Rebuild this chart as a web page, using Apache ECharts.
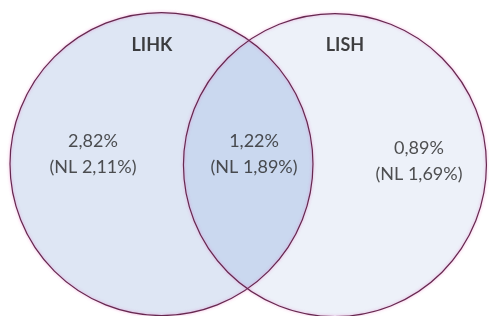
<!DOCTYPE html>
<html>
<head>
<meta charset="utf-8">
<script src="https://cdn.jsdelivr.net/npm/echarts@6/dist/echarts.min.js"></script>
<style>
html,body{margin:0;padding:0;background:#ffffff;}
#chart{width:489px;height:316px;}
</style>
</head>
<body>
<div id="chart"></div>
<script>
// ---- data ----
const setNames = ['LIHK', 'LISH'];
const setCenterX = [0, 1.145];
const setCenterY = [0, -0.007];
const setRadius = [1, 1];
const setTitleX = [-0.063, 1.211];
const setTitleY = [0.785, 0.785];

const regionNames = ['LIHK', 'LIHK ∩ LISH', 'LISH'];
const regionValues = ['2,82%', '1,22%', '0,89%'];
const regionNL = ['2,11%', '1,89%', '1,69%'];
const regionLabelX = [-0.452, 0.611, 1.70];
const regionLabelY = [0.066, 0.066, 0.02];

// ---- chart ----
const fills = ['#dee6f4', '#edf1f9'];
const lensFill = '#cad8ef';

const circleData = setNames.map((n, i) => [setCenterX[i], setCenterY[i], setRadius[i]]);

function circleShape(api, i) {
  const c = api.coord([setCenterX[i], setCenterY[i]]);
  const r = api.size([setRadius[i], 0])[0];
  return { cx: c[0], cy: c[1], r: r };
}

const chart = echarts.init(document.getElementById('chart'), null, { renderer: 'canvas' });
chart.setOption({
  backgroundColor: '#ffffff',
  animation: false,
  grid: { left: 0, right: 0, top: 0, bottom: 0 },
  xAxis: { type: 'value', min: -1.066, max: 2.162, show: false },
  yAxis: { type: 'value', min: -1.003, max: 1.0825, show: false },
  series: [
    {
      type: 'custom',
      name: 'fills',
      silent: true,
      data: circleData,
      renderItem: function (params, api) {
        const i = params.dataIndex;
        return { type: 'circle', shape: circleShape(api, i), style: { fill: fills[i], stroke: null } };
      },
      z: 1
    },
    {
      type: 'custom',
      name: 'overlap',
      silent: true,
      data: [[0]],
      renderItem: function (params, api) {
        const a = circleShape(api, 0);
        const b = circleShape(api, 1);
        const dx = b.cx - a.cx, dy = b.cy - a.cy;
        const d = Math.sqrt(dx * dx + dy * dy);
        const ux = dx / d, uy = dy / d;
        const along = (d * d + a.r * a.r - b.r * b.r) / (2 * d);
        const h = Math.sqrt(a.r * a.r - along * along);
        const mx = a.cx + ux * along, my = a.cy + uy * along;
        const p1 = [mx + uy * h, my - ux * h];
        const p2 = [mx - uy * h, my + ux * h];
        const top = p1[1] < p2[1] ? p1 : p2;
        const bot = p1[1] < p2[1] ? p2 : p1;
        const path = 'M' + top[0] + ' ' + top[1] +
          ' A' + a.r + ' ' + a.r + ' 0 0 1 ' + bot[0] + ' ' + bot[1] +
          ' A' + b.r + ' ' + b.r + ' 0 0 1 ' + top[0] + ' ' + top[1] + ' Z';
        const x0 = b.cx - b.r, x1 = a.cx + a.r;
        return {
          type: 'path',
          shape: { pathData: path, x: x0, y: top[1], width: x1 - x0, height: bot[1] - top[1], layout: 'cover' },
          style: { fill: lensFill, stroke: null }
        };
      },
      z: 2
    },
    {
      type: 'custom',
      name: 'outlines',
      silent: true,
      data: circleData,
      renderItem: function (params, api) {
        const i = params.dataIndex;
        return {
          type: 'circle',
          shape: circleShape(api, i),
          style: { fill: null, stroke: '#66284f', lineWidth: 1.2, shadowBlur: 3, shadowColor: 'rgba(235,120,200,0.7)' }
        };
      },
      z: 3
    },
    {
      type: 'scatter',
      name: 'titles',
      silent: true,
      symbolSize: 0,
      data: setNames.map((n, i) => [setTitleX[i], setTitleY[i], n]),
      label: {
        show: true, position: 'inside',
        formatter: p => p.data[2],
        fontFamily: 'Lato', fontWeight: 'bold', fontSize: 18, color: '#111111'
      },
      z: 4
    },
    {
      type: 'scatter',
      name: 'regions',
      silent: true,
      symbolSize: 0,
      data: regionNames.map((n, i) => [regionLabelX[i], regionLabelY[i], regionValues[i], regionNL[i]]),
      label: {
        show: true, position: 'inside', align: 'center',
        formatter: p => p.data[2] + '\n(NL ' + p.data[3] + ')',
        fontFamily: 'Lato', fontSize: 18, lineHeight: 26, color: '#262626'
      },
      z: 4
    }
  ]
});
</script>
</body>
</html>
